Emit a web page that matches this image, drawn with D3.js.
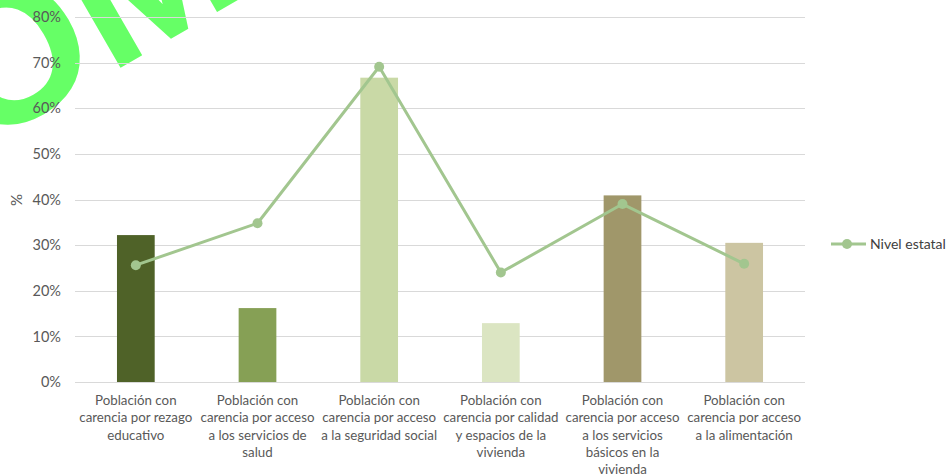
<!DOCTYPE html>
<html>
<head>
<meta charset="utf-8">
<script src="https://cdn.jsdelivr.net/npm/d3@7/dist/d3.min.js"></script>
<style>
  html, body { margin: 0; padding: 0; background: #fff; }
  svg { display: block; }
  text { font-family: Lato, "Open Sans", sans-serif; }
</style>
</head>
<body>
<svg id="chart" width="950" height="476"></svg>
<script>
// ---- data ----
const categories = [
  "Población con carencia por rezago educativo",
  "Población con carencia por acceso a los servicios de salud",
  "Población con carencia por acceso a la seguridad social",
  "Población con carencia por calidad y espacios de la vivienda",
  "Población con carencia por acceso a los servicios básicos en la vivienda",
  "Población con carencia por acceso a la alimentación"
];
const categoryLines = [
  ["Población con", "carencia por rezago", "educativo"],
  ["Población con", "carencia por acceso", "a los servicios de", "salud"],
  ["Población con", "carencia por acceso", "a la seguridad social"],
  ["Población con", "carencia por calidad", "y espacios de la", "vivienda"],
  ["Población con", "carencia por acceso", "a los servicios", "básicos en la", "vivienda"],
  ["Población con", "carencia por acceso", "a la alimentación"]
];
const barValues = [32.2, 16.2, 66.7, 12.9, 40.9, 30.5];
const barColors = ["#4F6228", "#86A055", "#C9D9A6", "#DBE5C2", "#A0976A", "#CCC5A2"];
const lineValues = [25.6, 34.8, 69.1, 24.0, 39.0, 25.9];
const lineName = "Nivel estatal";
const yTicks = [0, 10, 20, 30, 40, 50, 60, 70, 80];
const yTitle = "%";
const watermark = "OM";

// ---- layout ----
const svg = d3.select("#chart");
const margin = { left: 75, right: 145, top: 17, bottom: 94 };
const W = 950, H = 476;
const x = d3.scaleBand().domain(categories).range([margin.left, W - margin.right]).paddingInner(0.69).paddingOuter(0.345);
const y = d3.scaleLinear().domain([0, 80]).range([H - margin.bottom, margin.top]);
const xc = d => x(d) + x.bandwidth() / 2;

const lineColor = "#A2C68F";
const textColor = "#595959";

// watermark overlay (behind chart content)
svg.append("text").attr("transform", "translate(-22,150) rotate(-30)")
  .attr("fill", "#66FF66").style("font-family", "'Liberation Sans', Arial, sans-serif")
  .style("font-weight", "bold").style("font-size", "195px").text(watermark);

// gridlines
svg.append("g").selectAll("line").data(yTicks).join("line")
  .attr("x1", margin.left).attr("x2", W - margin.right)
  .attr("y1", d => Math.round(y(d)) + 0.5).attr("y2", d => Math.round(y(d)) + 0.5)
  .attr("stroke", "#D9D9D9").attr("stroke-width", 1);

// y axis labels
const yAxis = d3.axisLeft(y).tickValues(yTicks).tickFormat(d => d + "%").tickSize(0).tickPadding(14);
const gy = svg.append("g").attr("transform", `translate(${margin.left},0)`).call(yAxis);
gy.select(".domain").remove();
gy.selectAll("text").attr("fill", textColor).style("font-size", "14.5px").style("font-family", "Lato, sans-serif");

// y title
svg.append("text").attr("transform", `translate(22,200) rotate(-90)`)
  .attr("text-anchor", "middle").attr("fill", textColor).style("font-size", "15px").text(yTitle);

// bars
svg.append("g").selectAll("rect").data(categories).join("rect")
  .attr("x", d => x(d)).attr("width", x.bandwidth())
  .attr("y", (d, i) => y(barValues[i])).attr("height", (d, i) => y(0) - y(barValues[i]))
  .attr("fill", (d, i) => barColors[i]);

// x labels
const gx = svg.append("g");
categories.forEach((c, i) => {
  const t = gx.append("text").attr("x", xc(c)).attr("y", y(0) + 23)
    .attr("text-anchor", "middle").attr("fill", textColor).style("font-size", "13.3px");
  categoryLines[i].forEach((ln, j) => {
    t.append("tspan").attr("x", xc(c)).attr("dy", j === 0 ? 0 : 17.3).text(ln);
  });
});

// line series
const lineGen = d3.line().x((d, i) => xc(categories[i])).y(d => y(d));
svg.append("path").datum(lineValues).attr("d", lineGen)
  .attr("fill", "none").attr("stroke", lineColor).attr("stroke-width", 3).attr("stroke-linejoin", "round");
svg.append("g").selectAll("circle").data(lineValues).join("circle")
  .attr("cx", (d, i) => xc(categories[i])).attr("cy", d => y(d)).attr("r", 5).attr("fill", lineColor);

// legend
const lg = svg.append("g").attr("transform", "translate(831,244)");
lg.append("line").attr("x1", 0).attr("x2", 35).attr("y1", 0).attr("y2", 0).attr("stroke", lineColor).attr("stroke-width", 3);
lg.append("circle").attr("cx", 16).attr("cy", 0).attr("r", 5).attr("fill", lineColor);
lg.append("text").attr("x", 39).attr("y", 5).attr("fill", "#404040").style("font-size", "14px").text(lineName);
</script>
</body>
</html>
